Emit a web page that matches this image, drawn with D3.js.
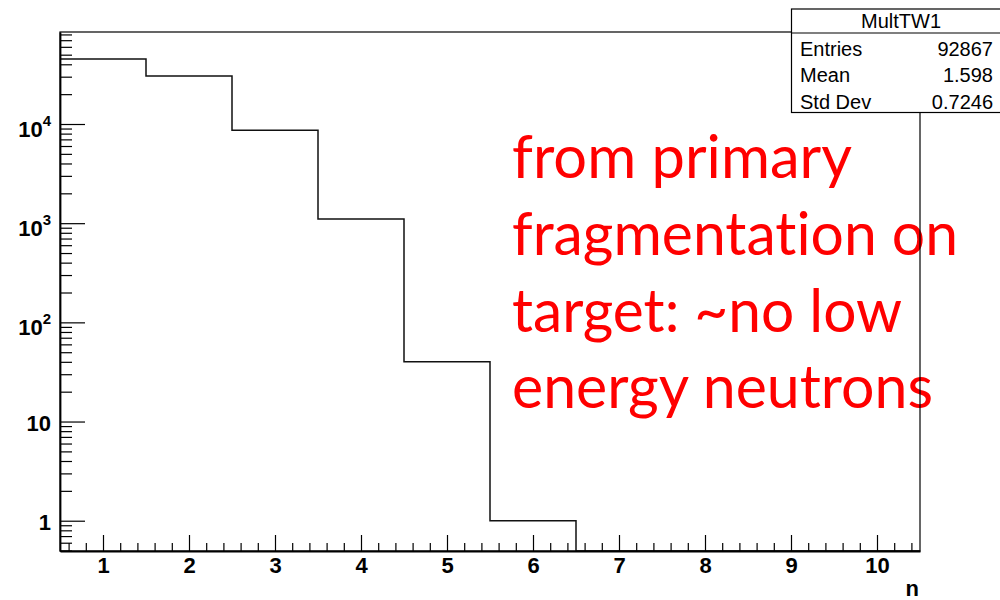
<!DOCTYPE html>
<html>
<head>
<meta charset="utf-8">
<script src="https://cdn.jsdelivr.net/npm/d3@7"></script>
<style>
  html, body { margin: 0; padding: 0; background: #fff; }
  svg { display: block; }
</style>
</head>
<body>
<svg id="chart" width="1000" height="600"></svg>
<script>
// Multiplicity histogram MultTW1: bin centres and contents
const binCenters = [1, 2, 3, 4, 5, 6, 7, 8, 9, 10];
const binCounts  = [45200, 30450, 8640, 1105, 40, 1, 0, 0, 0, 0];
const binWidth = 1;

// Axis ranges and tick values
const xRange = [0.5, 10.5];
const yRange = [0.495, 84660];
const xMajorTicks = [1, 2, 3, 4, 5, 6, 7, 8, 9, 10];
const yMajorTicks = [1, 10, 100, 1000, 10000];
const yTickLabels = [["1", ""], ["10", ""], ["10", "2"], ["10", "3"], ["10", "4"]];
const xTitle = "n";

// Statistics box
const statsTitle = "MultTW1";
const statsNames = ["Entries", "Mean", "Std Dev"];
const statsValues = ["92867", "1.598", "0.7246"];

// Annotation
const noteLines = ["from primary", "fragmentation on", "target: ~no low", "energy neutrons"];
const noteWidths = [340, 446, 390, 421];

const svg = d3.select("#chart");
const frame = { left: 60, right: 920, top: 32, bottom: 551 };

const x = d3.scaleLinear().domain(xRange).range([frame.left, frame.right]);
const y = d3.scaleLog().domain(yRange).range([frame.bottom, frame.top]);

// Annotation text sits under the frame lines
const note = svg.append("g").attr("fill", "#ff0000")
  .style("font-family", "Lato, 'Open Sans', sans-serif")
  .style("font-size", "60px")
  .style("font-variant-ligatures", "none")
  .style("font-feature-settings", "'liga' 0, 'clig' 0");
noteLines.forEach((t, i) => {
  note.append("text")
    .attr("x", 512)
    .attr("y", 178 + i * 76.8)
    .attr("textLength", noteWidths[i])
    .attr("lengthAdjust", "spacingAndGlyphs")
    .text(t);
});

// Histogram outline (zero bins drop to the axis)
const pts = binCenters.map((c, i) => [c - binWidth / 2, Math.max(binCounts[i], yRange[0])]);
pts.push([xRange[1], pts[pts.length - 1][1]]);
const step = d3.line()
  .x(d => x(d[0]))
  .y(d => y(d[1]))
  .curve(d3.curveStepAfter);
svg.append("path")
  .attr("d", step(pts))
  .attr("fill", "none")
  .attr("stroke", "#111")
  .attr("stroke-width", 1.5);

// Frame
svg.append("rect")
  .attr("x", frame.left).attr("y", frame.top)
  .attr("width", frame.right - frame.left)
  .attr("height", frame.bottom - frame.top)
  .attr("fill", "none").attr("stroke", "#000").attr("stroke-width", 1.2);

// X axis: minor ticks
const xMinor = d3.range(0.6, 10.45, 0.2).map(v => +v.toFixed(1))
  .filter(v => Math.abs(v - Math.round(v)) > 1e-6);
svg.append("g")
  .attr("transform", `translate(0,${frame.bottom})`)
  .call(d3.axisBottom(x).tickValues(xMinor).tickSize(-8).tickSizeOuter(0).tickFormat(""))
  .call(g => g.select(".domain").remove())
  .call(g => g.selectAll("line").attr("stroke", "#000").attr("stroke-width", 1.2));

// X axis: major ticks with labels
svg.append("g")
  .attr("transform", `translate(0,${frame.bottom})`)
  .call(d3.axisBottom(x).tickValues(xMajorTicks).tickSize(-16).tickSizeOuter(0).tickPadding(6.5))
  .call(g => g.select(".domain").attr("stroke", "#000").attr("stroke-width", 1.8))
  .call(g => g.selectAll("line").attr("stroke", "#000").attr("stroke-width", 1.2))
  .call(g => g.selectAll("text")
    .attr("fill", "#000")
    .style("font-family", "'Liberation Sans', Arial, sans-serif")
    .style("font-size", "22px")
    .style("font-weight", "bold"));

svg.append("text")
  .attr("x", 919).attr("y", 596)
  .attr("text-anchor", "end")
  .style("font-family", "'Liberation Sans', Arial, sans-serif")
  .style("font-size", "22px")
  .style("font-weight", "bold")
  .text(xTitle);

// Y axis: minor ticks (2..9 of each decade inside the range)
const yMinor = [];
for (let e = -1; e <= 4; e++) {
  for (let m = 2; m <= 9; m++) {
    const v = m * Math.pow(10, e);
    if (v >= yRange[0] && v <= yRange[1]) yMinor.push(v);
  }
}
svg.append("g")
  .attr("transform", `translate(${frame.left},0)`)
  .call(d3.axisLeft(y).tickValues(yMinor).tickSize(-12).tickSizeOuter(0).tickFormat(""))
  .call(g => g.select(".domain").remove())
  .call(g => g.selectAll("line").attr("stroke", "#000").attr("stroke-width", 1.2));

// Y axis: decades with labels
const yAxis = svg.append("g")
  .attr("transform", `translate(${frame.left},0)`)
  .call(d3.axisLeft(y).tickValues(yMajorTicks).tickSize(-25).tickSizeOuter(0).tickPadding(9).tickFormat(""))
  .call(g => g.select(".domain").attr("stroke", "#000").attr("stroke-width", 1.8))
  .call(g => g.selectAll("line").attr("stroke", "#000").attr("stroke-width", 1.2));
yAxis.selectAll(".tick text").each(function (d, i) {
  const [base, sup] = yTickLabels[i];
  const t = d3.select(this)
    .attr("fill", "#000")
    .attr("dy", sup ? "12px" : "8.6px")
    .style("font-family", "'Liberation Sans', Arial, sans-serif")
    .style("font-size", "22px")
    .style("font-weight", "bold");
  t.append("tspan").text(base);
  if (sup) {
    t.append("tspan").attr("dy", "-11px").style("font-size", "15px").text(sup);
  }
});

// Statistics box
const box = { x: 791.5, y: 9, w: 220, h: 103.5, titleLine: 33 };
const stats = svg.append("g")
  .style("font-family", "'Liberation Sans', Arial, sans-serif")
  .style("font-size", "20px")
  .attr("fill", "#000");
stats.append("rect")
  .attr("x", box.x).attr("y", box.y).attr("width", box.w).attr("height", box.h)
  .attr("fill", "#fff").attr("stroke", "#000").attr("stroke-width", 1.2);
stats.append("line")
  .attr("x1", box.x).attr("x2", box.x + box.w)
  .attr("y1", box.titleLine).attr("y2", box.titleLine)
  .attr("stroke", "#000").attr("stroke-width", 1.2);
stats.append("text")
  .attr("x", 901).attr("y", 27.5).attr("text-anchor", "middle")
  .text(statsTitle);
statsNames.forEach((n, i) => {
  const by = 56 + i * 26.3;
  stats.append("text").attr("x", 800).attr("y", by).text(n);
  stats.append("text").attr("x", 993).attr("y", by).attr("text-anchor", "end").text(statsValues[i]);
});
</script>
</body>
</html>
